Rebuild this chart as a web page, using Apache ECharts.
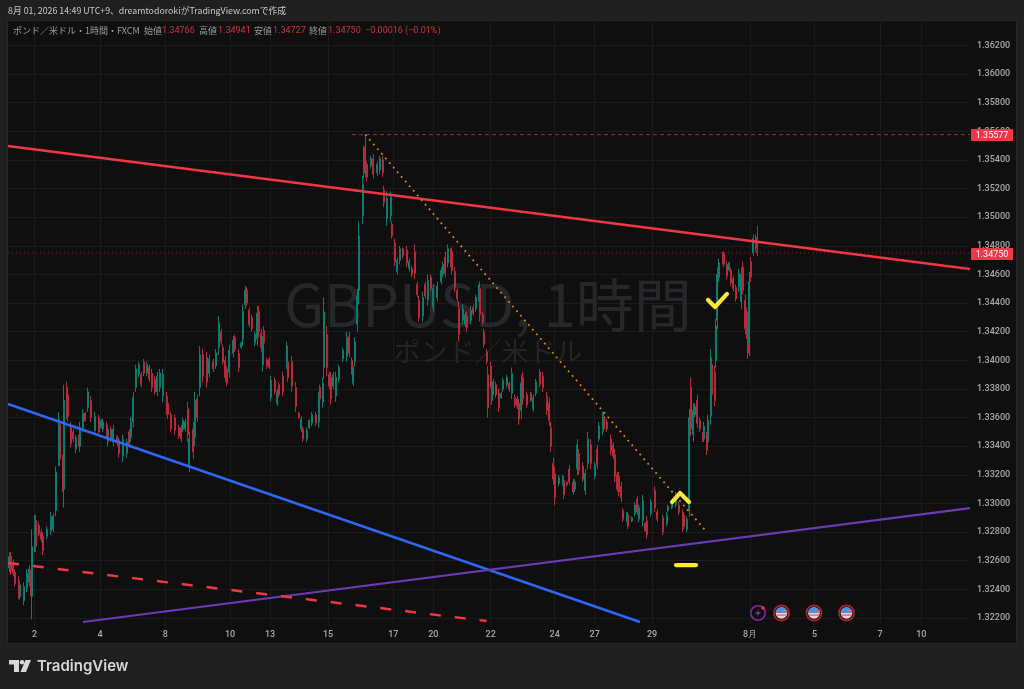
<!DOCTYPE html>
<html><head><meta charset="utf-8"><style>html,body{margin:0;padding:0;background:#1f1f1f}#c{width:1024px;height:689px}</style>
<script src="https://cdn.jsdelivr.net/npm/echarts@6/dist/echarts.min.js"></script></head><body><div id="c"></div>
<script>
const barHours=[1,2,4,5,8,9,12,14,16,17,
18,20,21,23,25,26,29,32,34,36,
38,39,41,42,44,45,47,49,51,53,
54,56,58,60,62,65,68,70,71,74,
75,77,79,82,83,86,89,91,92,94,
96,98,100,102,104,106,108,110,112,114,
116,119,120,122,125,128,130,131,133,135,
136,139,140,142,144,146,149,151,154,156,
158,160,161,163,164,166,169,170,173,175,
176,178,179,181,183,185,187,188,190,191,
192,194,196,197,200,202,203,206,209,210,
213,216,218,220,221,224,226,228,231,233,
234,236,237,239,241,242,244,246,248,251,
254,256,258,259,260,262,263,266,267,268,
269,272,274,277,279,281,282,284,287,288,
290,292,294,296,299,301,303,305,307,308,
311,313,315,317,319,322,325,326,328,330,
332,333,335,337,338,341,343,344,347,349,
351,353,354,356,357,359,360,362,363,364,
366,368,370,371,374,376,378,380,382,383,
385,386,389,392,394,396,399,401,404,406,
407,409,410,413,416,417,419,421,424,425,
427,428,431,433,435,437,440,442,443,446,
447,449,452,454,455,457,458,460,461,464,
465,468,470,472,473,476,478,479,482,485,
487,491,494,495,498,501,503,506,507,509,
511,512,514,515,517,519,521,522,524,525,
527,528,530,531,532,533,536,537,539,541,
542,544,546,548,550,551,553,554,555,556,
557,559,561,562];
const highs=[1.3266,1.3266,1.3261,1.3254,1.3249,1.3245,1.3245,1.3254,1.3257,1.3254,
1.3282,1.3292,1.3292,1.3287,1.3282,1.3280,1.3284,1.3294,1.3293,1.3326,
1.3364,1.3359,1.3334,1.3383,1.3385,1.3380,1.3357,1.3352,1.3348,1.3348,
1.3357,1.3366,1.3364,1.3381,1.3375,1.3364,1.3362,1.3359,1.3359,1.3357,
1.3354,1.3354,1.3355,1.3348,1.3346,1.3348,1.3345,1.3352,1.3360,1.3378,
1.3397,1.3399,1.3392,1.3401,1.3399,1.3397,1.3394,1.3389,1.3392,1.3394,
1.3394,1.3378,1.3373,1.3364,1.3362,1.3355,1.3355,1.3360,1.3359,1.3371,
1.3350,1.3357,1.3378,1.3376,1.3410,1.3408,1.3406,1.3404,1.3401,1.3408,
1.3431,1.3422,1.3411,1.3403,1.3396,1.3411,1.3417,1.3418,1.3408,1.3413,
1.3439,1.3452,1.3451,1.3437,1.3432,1.3420,1.3438,1.3438,1.3422,1.3417,
1.3424,1.3402,1.3402,1.3389,1.3388,1.3380,1.3385,1.3392,1.3413,1.3402,
1.3403,1.3385,1.3364,1.3361,1.3354,1.3353,1.3359,1.3364,1.3364,1.3378,
1.3383,1.3388,1.3444,1.3424,1.3392,1.3392,1.3392,1.3392,1.3397,1.3409,
1.3420,1.3420,1.3402,1.3396,1.3416,1.3450,1.3497,1.3529,1.3550,1.35577,
1.3539,1.3543,1.3544,1.3539,1.3543,1.3543,1.3522,1.3518,1.3518,1.3497,
1.3485,1.3472,1.3480,1.3479,1.3480,1.3471,1.3466,1.3481,1.3455,1.3445,
1.3448,1.3455,1.3460,1.3460,1.3453,1.3455,1.3465,1.3469,1.3476,1.3481,
1.3478,1.3479,1.3465,1.3451,1.3441,1.3439,1.3434,1.3434,1.3438,1.3439,
1.3446,1.3453,1.3455,1.3434,1.3422,1.3408,1.3396,1.3399,1.3385,1.3387,
1.3385,1.3380,1.3378,1.3388,1.3390,1.3385,1.3395,1.3376,1.3375,1.3373,
1.3390,1.3392,1.3378,1.3378,1.3376,1.3387,1.3394,1.3392,1.3378,1.3374,
1.3357,1.3332,1.3326,1.3320,1.3320,1.3319,1.3315,1.3327,1.3317,1.3317,
1.3345,1.3338,1.3329,1.3324,1.3350,1.3345,1.3329,1.3341,1.3357,1.3364,
1.3364,1.3359,1.3348,1.3343,1.3338,1.3322,1.3322,1.3315,1.3297,1.3294,
1.3294,1.3291,1.3301,1.3305,1.3299,1.3306,1.3287,1.3291,1.3303,1.3312,
1.3296,1.3292,1.3294,1.3299,1.3301,1.3308,1.3301,1.3296,1.3294,1.3291,
1.3366,1.3388,1.3370,1.3370,1.3376,1.3360,1.3350,1.3357,1.3350,1.3362,
1.3408,1.3402,1.3396,1.3429,1.3465,1.3471,1.3476,1.3476,1.3469,1.3469,
1.3465,1.3459,1.3453,1.3464,1.3465,1.3469,1.3446,1.3437,1.3427,1.3462,
1.3472,1.3488,1.3488,1.34941];
const lows=[1.3252,1.3250,1.3249,1.3242,1.3233,1.3233,1.3229,1.3238,1.3242,1.3235,
1.3219,1.3266,1.3266,1.3277,1.3273,1.3264,1.3275,1.3278,1.3280,1.3291,
1.3326,1.3326,1.3308,1.3297,1.3359,1.3357,1.3339,1.3343,1.3335,1.3340,
1.3336,1.3350,1.3357,1.3364,1.3357,1.3348,1.3347,1.3352,1.3350,1.3345,
1.3340,1.3343,1.3340,1.3340,1.3332,1.3329,1.3332,1.3339,1.3343,1.3353,
1.3378,1.3388,1.3381,1.3389,1.3389,1.3385,1.3378,1.3376,1.3375,1.3378,
1.3371,1.3362,1.3359,1.3350,1.3348,1.3345,1.3343,1.3350,1.3350,1.3343,
1.3322,1.3331,1.3340,1.3357,1.3375,1.3385,1.3381,1.3388,1.3392,1.3394,
1.3404,1.3411,1.3397,1.3385,1.3382,1.3388,1.3402,1.3406,1.3392,1.3408,
1.3410,1.3436,1.3438,1.3423,1.3420,1.3410,1.3410,1.3416,1.3406,1.3392,
1.3409,1.3394,1.3394,1.3371,1.3376,1.3368,1.3374,1.3375,1.3394,1.3385,
1.3378,1.3364,1.3359,1.3350,1.3343,1.3343,1.3352,1.3354,1.3354,1.3353,
1.3371,1.3367,1.3387,1.3389,1.3380,1.3369,1.3380,1.3371,1.3385,1.3399,
1.3399,1.3402,1.3390,1.3382,1.3396,1.3420,1.3439,1.3495,1.3527,1.3528,
1.3525,1.3534,1.3527,1.3529,1.3530,1.3528,1.3507,1.3494,1.3497,1.3485,
1.3466,1.3460,1.3467,1.3471,1.3465,1.3462,1.3458,1.3457,1.3444,1.3427,
1.3427,1.3443,1.3438,1.3448,1.3434,1.3441,1.3453,1.3458,1.3458,1.3465,
1.3465,1.3460,1.3448,1.3441,1.3413,1.3425,1.3423,1.3420,1.3425,1.3431,
1.3434,1.3441,1.3427,1.3425,1.3409,1.3397,1.3360,1.3381,1.3369,1.3376,
1.3374,1.3364,1.3373,1.3378,1.3381,1.3378,1.3373,1.3367,1.3366,1.3355,
1.3359,1.3369,1.3367,1.3371,1.3364,1.3375,1.3381,1.3378,1.3362,1.3354,
1.3336,1.3313,1.3299,1.3312,1.3312,1.3303,1.3312,1.3313,1.3306,1.3308,
1.3320,1.3320,1.3315,1.3306,1.3324,1.3324,1.3317,1.3324,1.3343,1.3348,
1.3350,1.3350,1.3334,1.3331,1.3315,1.3308,1.3305,1.3301,1.3287,1.3287,
1.3282,1.3287,1.3291,1.3292,1.3287,1.3284,1.3280,1.3275,1.3291,1.3294,
1.3287,1.3278,1.3284,1.3294,1.3296,1.3297,1.3292,1.3280,1.3282,1.3280,
1.3291,1.3347,1.3343,1.3360,1.3353,1.3350,1.3343,1.3343,1.3334,1.3339,
1.3355,1.3371,1.3368,1.3395,1.3422,1.3455,1.3467,1.3465,1.3457,1.3462,
1.3452,1.3448,1.3441,1.3448,1.3436,1.3446,1.3418,1.3415,1.3401,1.3403,
1.3455,1.3473,1.3476,1.34727];
const opens=[1.3255,1.3263,1.3259,1.3252,1.3246,1.3235,1.3232,1.3241,1.3245,1.3251,
1.3235,1.3270,1.3288,1.3285,1.3280,1.3277,1.3277,1.3281,1.3282,1.3295,
1.3330,1.3355,1.3330,1.3310,1.3381,1.3376,1.3354,1.3350,1.3338,1.3346,
1.3340,1.3353,1.3363,1.3367,1.3372,1.3351,1.3360,1.3353,1.3352,1.3355,
1.3343,1.3352,1.3343,1.3347,1.3344,1.3333,1.3335,1.3350,1.3346,1.3357,
1.3381,1.3390,1.3390,1.3399,1.3391,1.3395,1.3391,1.3387,1.3378,1.3381,
1.3375,1.3375,1.3370,1.3362,1.3360,1.3353,1.3353,1.3352,1.3352,1.3366,
1.3327,1.3352,1.3346,1.3373,1.3381,1.3404,1.3402,1.3391,1.3399,1.3396,
1.3409,1.3420,1.3409,1.3400,1.3394,1.3392,1.3405,1.3416,1.3405,1.3409,
1.3415,1.3439,1.3449,1.3435,1.3430,1.3412,1.3415,1.3434,1.3419,1.3397,
1.3421,1.3400,1.3401,1.3374,1.3386,1.3370,1.3383,1.3389,1.3397,1.3399,
1.3399,1.3381,1.3363,1.3352,1.3352,1.3345,1.3353,1.3356,1.3362,1.3357,
1.3381,1.3371,1.3395,1.3418,1.3390,1.3388,1.3382,1.3375,1.3387,1.3401,
1.3403,1.3417,1.3400,1.3384,1.3399,1.3425,1.3449,1.3501,1.3531,1.3549,
1.3537,1.3536,1.3541,1.3531,1.3533,1.3540,1.3519,1.3499,1.3501,1.3495,
1.3482,1.3462,1.3470,1.3478,1.3477,1.3464,1.3464,1.3476,1.3453,1.3442,
1.3431,1.3453,1.3442,1.3458,1.3437,1.3444,1.3455,1.3460,1.3472,1.3468,
1.3476,1.3476,1.3462,1.3449,1.3436,1.3428,1.3425,1.3431,1.3428,1.3437,
1.3436,1.3443,1.3450,1.3432,1.3420,1.3406,1.3390,1.3396,1.3372,1.3378,
1.3383,1.3377,1.3374,1.3380,1.3383,1.3384,1.3377,1.3374,1.3373,1.3370,
1.3365,1.3388,1.3376,1.3377,1.3366,1.3377,1.3392,1.3389,1.3375,1.3370,
1.3353,1.3328,1.3321,1.3314,1.3314,1.3316,1.3315,1.3324,1.3315,1.3310,
1.3324,1.3335,1.3326,1.3309,1.3328,1.3341,1.3319,1.3338,1.3345,1.3351,
1.3361,1.3357,1.3345,1.3341,1.3334,1.3320,1.3319,1.3312,1.3295,1.3288,
1.3292,1.3288,1.3293,1.3303,1.3289,1.3288,1.3286,1.3288,1.3293,1.3309,
1.3294,1.3290,1.3286,1.3295,1.3297,1.3299,1.3299,1.3293,1.3292,1.3282,
1.3296,1.3381,1.3348,1.3362,1.3372,1.3358,1.3349,1.3345,1.3347,1.3343,
1.3361,1.3397,1.3392,1.3400,1.3428,1.3458,1.3475,1.3474,1.3467,1.3463,
1.3463,1.3457,1.3451,1.3451,1.3441,1.3465,1.3442,1.3434,1.3423,1.3412,
1.3469,1.3475,1.3486,1.34766];
const closes=[1.3263,1.3253,1.3251,1.3244,1.3236,1.3243,1.3242,1.3251,1.3254,1.3238,
1.3270,1.3288,1.3270,1.3279,1.3275,1.3267,1.3282,1.3291,1.3291,1.3322,
1.3358,1.3331,1.3312,1.3372,1.3363,1.3361,1.3342,1.3345,1.3346,1.3342,
1.3353,1.3363,1.3358,1.3378,1.3360,1.3361,1.3350,1.3358,1.3357,1.3347,
1.3352,1.3345,1.3352,1.3342,1.3335,1.3345,1.3343,1.3341,1.3357,1.3374,
1.3394,1.3397,1.3383,1.3391,1.3397,1.3387,1.3381,1.3378,1.3389,1.3391,
1.3390,1.3365,1.3362,1.3352,1.3351,1.3347,1.3345,1.3358,1.3357,1.3348,
1.3345,1.3336,1.3372,1.3360,1.3404,1.3389,1.3385,1.3401,1.3394,1.3405,
1.3426,1.3413,1.3399,1.3388,1.3384,1.3407,1.3414,1.3408,1.3395,1.3412,
1.3434,1.3449,1.3440,1.3425,1.3422,1.3418,1.3433,1.3420,1.3409,1.3412,
1.3412,1.3396,1.3395,1.3386,1.3378,1.3378,1.3376,1.3378,1.3410,1.3388,
1.3382,1.3368,1.3360,1.3359,1.3345,1.3351,1.3358,1.3362,1.3356,1.3374,
1.3373,1.3384,1.3434,1.3395,1.3382,1.3373,1.3390,1.3388,1.3395,1.3407,
1.3416,1.3405,1.3392,1.3394,1.3413,1.3445,1.3487,1.3523,1.3546,1.3533,
1.3528,1.3541,1.3530,1.3537,1.3541,1.3531,1.3510,1.3513,1.3514,1.3487,
1.3469,1.3470,1.3478,1.3473,1.3468,1.3469,1.3460,1.3461,1.3446,1.3430,
1.3444,1.3445,1.3456,1.3450,1.3450,1.3452,1.3463,1.3467,1.3461,1.3478,
1.3467,1.3463,1.3451,1.3443,1.3418,1.3436,1.3432,1.3423,1.3435,1.3433,
1.3444,1.3451,1.3432,1.3427,1.3411,1.3399,1.3367,1.3384,1.3382,1.3385,
1.3376,1.3367,1.3377,1.3386,1.3388,1.3380,1.3391,1.3369,1.3368,1.3359,
1.3384,1.3373,1.3369,1.3372,1.3374,1.3385,1.3383,1.3381,1.3365,1.3358,
1.3340,1.3317,1.3304,1.3318,1.3319,1.3306,1.3313,1.3315,1.3308,1.3315,
1.3341,1.3323,1.3317,1.3321,1.3345,1.3328,1.3327,1.3327,1.3354,1.3361,
1.3352,1.3352,1.3337,1.3333,1.3319,1.3310,1.3308,1.3304,1.3289,1.3293,
1.3284,1.3290,1.3299,1.3294,1.3297,1.3302,1.3281,1.3278,1.3301,1.3297,
1.3289,1.3280,1.3292,1.3298,1.3300,1.3306,1.3294,1.3283,1.3284,1.3289,
1.3360,1.3352,1.3365,1.3368,1.3356,1.3352,1.3344,1.3354,1.3337,1.3358,
1.3402,1.3376,1.3372,1.3424,1.3460,1.3468,1.3469,1.3467,1.3459,1.3468,
1.3454,1.3450,1.3443,1.3461,1.3460,1.3449,1.3422,1.3418,1.3405,1.3455,
1.3458,1.3485,1.3478,1.34750];
const priceTicks=[1.322,1.324,1.326,1.328,1.33,1.332,1.334,1.336,1.338,1.34,1.342,1.344,1.346,1.348,1.35,1.352,1.354,1.356,1.358,1.36,1.362];
const timeTickHours=[20,69,118,166.5,196.5,240,289,319,362,410,440,483,556.5,605,654,685];
const timeTickLabels=['2','4','8','10','13','15','17','20','22','24','27','29','8月','5','7','10'];
const redTrendHours=[0,721.5], redTrendPrices=[1.35498,1.34638];
const blueTrendHours=[0,474], blueTrendPrices=[1.33695,1.32172];
const purpleTrendHours=[56.25,721.5], purpleTrendPrices=[1.32172,1.32968];
const dashTrendHours=[0,359], dashTrendPrices=[1.32584,1.32179];
const dotTrendHours=[268,524], dotTrendPrices=[1.35577,1.32801];
const highLineHours=[258,721.5], highLinePrices=[1.35577,1.35577];
const lastLineHours=[0,721.5], lastLinePrices=[1.3475,1.3475];
const caretHours=[498,504,510.75], caretPrices=[1.3301,1.33073,1.3301];
const checkHours=[525,530.25,539.25], checkPrices=[1.34422,1.34373,1.34464];
const barMarkHours=[501,516], barMarkPrices=[1.3257,1.3257];
const flagX=[781.5,814,846.5];

const pairs=(a,b)=>a.map((v,i)=>[v,b[i]]);
const line=(h,p,color,width,type,cap,join,z)=>({type:'line',data:pairs(h,p),symbol:'none',silent:true,animation:false,z:z||3,
  lineStyle:{color,width,type:type||'solid',cap:cap||'butt',join:join||'miter'}});
const cjk='"Noto Sans CJK JP","Noto Sans",sans-serif';
const txt=(text,x,y,fill,font,extra,z)=>({type:'text',z:z||1,silent:true,style:Object.assign({text,x,y,fill,font,textVerticalAlign:'middle'},extra||{})});
const grey='#9b9b9b', red='#d32f3f';
const g=[
 {type:'rect',z:-10,silent:true,shape:{x:7,y:20,width:1010,height:624},style:{fill:'#262626'}},
 {type:'rect',z:-9,silent:true,shape:{x:8,y:21,width:1008,height:622},style:{fill:'#0f0f0f'}},
 txt('GBPUSD, 1時間',488,305,'#26272b','58px '+cjk,{textAlign:'center'}),
 txt('ポンド／米ドル',488,352,'#232428','27px '+cjk,{textAlign:'center'}),
 txt('8月 01, 2026 14:49 UTC+9、dreamtodorokiがTradingView.comで作成',8,11,'#c8c8c8','8.8px '+cjk),
 txt('ポンド／米ドル・1時間・FXCM',13,31,grey,'9px '+cjk),
 txt('始値',144,31,grey,'9px '+cjk),txt('1.34766',162,31,red,'9px Roboto'),
 txt('高値',199,31,grey,'9px '+cjk),txt('1.34941',218,31,red,'9px Roboto'),
 txt('安値',254,31,grey,'9px '+cjk),txt('1.34727',273,31,red,'9px Roboto'),
 txt('終値',309,31,grey,'9px '+cjk),txt('1.34750',328,31,red,'9px Roboto'),
 txt('−0.00016 (−0.01%)',365,31,red,'9px Roboto'),
 {type:'rect',z:5,silent:true,shape:{x:971,y:129,width:42,height:12,r:1},style:{fill:'#f23645'}},
 txt('1.35577',992,135.5,'#fff','9px Roboto',{textAlign:'center'},6),
 {type:'rect',z:5,silent:true,shape:{x:971,y:248,width:42,height:12,r:1},style:{fill:'#f23645'}},
 txt('1.34750',992,254.5,'#fff','9px Roboto',{textAlign:'center'},6),
 {type:'circle',z:6,silent:true,shape:{cx:758,cy:613,r:7.2},style:{fill:'none',stroke:'#7b2c9e',lineWidth:1.6}},
 {type:'polygon',z:6,silent:true,shape:{points:[[759.5,608.5],[755,614],[758,614],[756.5,617.5],[761,612],[758,612]]},style:{fill:'#7b2c9e'}},
 {type:'circle',z:7,silent:true,shape:{cx:763,cy:608,r:1.8},style:{fill:'#f23645'}},
 txt('TradingView',37,666.5,'#d8d8d8','600 15px Inter'),
 {type:'polygon',z:1,silent:true,shape:{points:[[9,660],[19,660],[19,672],[14,672],[14,664.5],[9,664.5]]},style:{fill:'#d8d8d8'}},
 {type:'circle',z:1,silent:true,shape:{cx:22,cy:662.3,r:2.3},style:{fill:'#d8d8d8'}},
 {type:'polygon',z:1,silent:true,shape:{points:[[25.5,660],[31,660],[26,672],[20.5,672]]},style:{fill:'#d8d8d8'}}
];
flagX.forEach(x=>{const y=613;g.push(
 {type:'circle',z:6,silent:true,shape:{cx:x,cy:y,r:7.6},style:{fill:'#141414',stroke:'#b3222f',lineWidth:1.6}},
 {type:'circle',z:6,silent:true,shape:{cx:x,cy:y,r:5.8},style:{fill:'#f0d0d0'}},
 {type:'sector',z:6,silent:true,shape:{cx:x,cy:y,r:5.8,startAngle:Math.PI,endAngle:Math.PI*2},style:{fill:'#4a90e2'}},
 {type:'rect',z:7,silent:true,shape:{x:x+1,y:y-2.6,width:4.4,height:1.4},style:{fill:'#e86a6a'}},
 {type:'rect',z:7,silent:true,shape:{x:x-5.2,y:y+1.4,width:10.4,height:1.4},style:{fill:'#e86a6a'}});});

const chart=echarts.init(document.getElementById('c'),null,{renderer:'canvas'});
const axisText={color:'#a8a8a8',fontSize:9,fontFamily:'Roboto',fontWeight:500};
const gridLine={show:true,lineStyle:{color:'#1b1b1b',width:1}};
chart.setOption({
 animation:false,backgroundColor:'#1f1f1f',
 grid:{left:8,top:20,width:962,height:605,containLabel:false},
 xAxis:{type:'value',min:0,max:721.5,axisLine:{show:false},axisTick:{show:false,customValues:timeTickHours},
  splitLine:gridLine,
  axisLabel:Object.assign({},axisText,{customValues:timeTickHours,margin:5,
    formatter:v=>timeTickLabels[timeTickHours.indexOf(v)]||''})},
 yAxis:{type:'value',position:'right',min:1.32151,max:1.36378,scale:true,axisLine:{show:false},axisTick:{show:false,customValues:priceTicks},
  splitLine:gridLine,
  axisLabel:Object.assign({},axisText,{customValues:priceTicks,margin:7,formatter:v=>v.toFixed(5)})},
 graphic:{elements:g},
 series:[
  {type:'candlestick',z:2,barWidth:1.6,silent:true,animation:false,large:false,
   encode:{x:0,y:[1,2,3,4]},
   data:barHours.map((h,i)=>[h,opens[i],closes[i],lows[i],highs[i]]),
   itemStyle:{color:'#0b7d6e',color0:'#b72a3b',borderColor:'#0b7d6e',borderColor0:'#b72a3b',borderWidth:1}},
  line(lastLineHours,lastLinePrices,'#7a2530',1,[1,3]),
  line(highLineHours,highLinePrices,'#a32a39',1,[4,3]),
  line(redTrendHours,redTrendPrices,'#f23645',2.5),
  line(blueTrendHours,blueTrendPrices,'#2f66f5',2.5),
  line(purpleTrendHours,purpleTrendPrices,'#6a3bb5',2.2),
  line(dashTrendHours,dashTrendPrices,'#f23645',2.5,[11,14]),
  line(dotTrendHours,dotTrendPrices,'#d98a0b',1.8,[1.8,4.3]),
  line(caretHours,caretPrices,'#ffe936',4.2,'solid','round','round',4),
  line(checkHours,checkPrices,'#ffe936',4.2,'solid','round','round',4),
  line(barMarkHours,barMarkPrices,'#ffe936',4.2,'solid','round','round',4)
 ]
});
</script></body></html>
